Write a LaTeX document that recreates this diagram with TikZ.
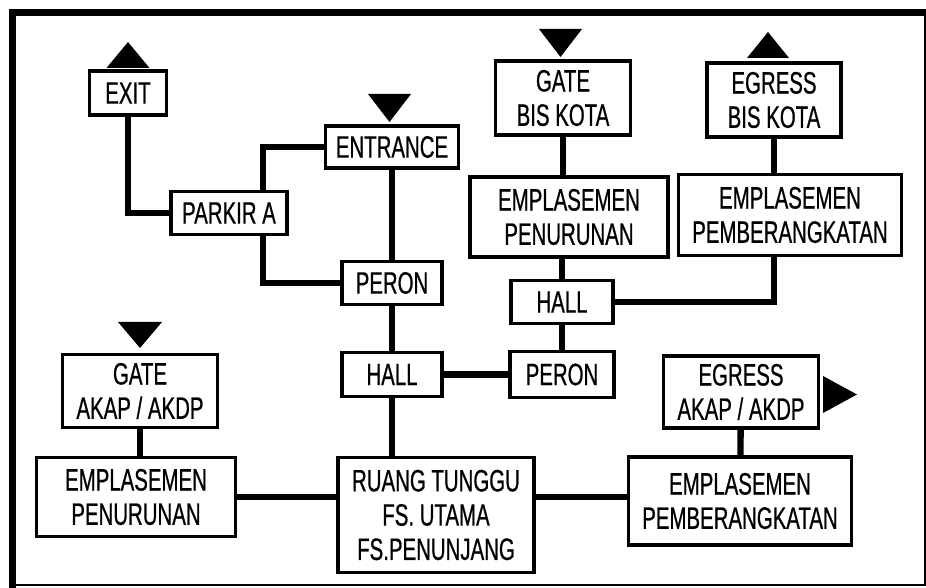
\documentclass[tikz,border=0pt]{standalone}
\usepackage{fontspec}
\setmainfont[FakeStretch=0.66, FakeBold=0.6]{Liberation Sans}

\begin{document}
\begin{tikzpicture}[
      font=\fontsize{17.6}{19.5}\selectfont,
      box/.style={draw=black, line width=1.8pt, fill=white, align=center,
                  inner sep=0pt},
      link/.style={draw=black, line width=3.6pt},
      tri/.style={fill=black},
      frame/.style={draw=black, line cap=rect}
    ]
    \useasboundingbox (0,0) rectangle (18.52,11.74);
    \draw[frame, line width=3.6pt] (0.25,0.04) -- (0.25,11.49) -- (18.50,11.49);
    \draw[frame, line width=1.5pt] (0.25,0.04) -- (18.50,0.04) -- (18.50,11.49);

    % Parking and entrance side.
    \node[box, minimum width=1.54cm, minimum height=0.88cm] (exit) at (2.56,9.88) {EXIT};
    \node[box, minimum width=2.66cm, minimum height=0.84cm] (entrance) at (7.84,8.80) {ENTRANCE};
    \node[box, minimum width=2.32cm, minimum height=0.86cm] (parkir) at (4.58,7.48) {PARKIR A};
    \node[box, minimum width=2.00cm, minimum height=0.86cm] (peronL) at (7.84,6.08) {PERON};
    \node[box, minimum width=2.00cm, minimum height=0.88cm] (hallL) at (7.84,4.25) {HALL};
    \fill[tri] (2.13,10.38) -- (2.99,10.38) -- (2.56,10.90) -- cycle;
    \fill[tri] (7.36,9.86) -- (8.22,9.86) -- (7.79,9.30) -- cycle;

    % City bus side.
    \node[box, minimum width=2.70cm, minimum height=1.48cm] (gateBis) at (11.26,9.78) {GATE\\BIS KOTA};
    \node[box, minimum width=2.68cm, minimum height=1.48cm] (egressBis) at (15.48,9.74) {EGRESS\\BIS KOTA};
    \node[box, minimum width=3.96cm, minimum height=1.60cm] (empPenT) at (11.38,7.40) {EMPLASEMEN\\PENURUNAN};
    \node[box, minimum width=4.46cm, minimum height=1.62cm] (empBerT) at (15.80,7.44) {EMPLASEMEN\\PEMBERANGKATAN};
    \node[box, minimum width=2.04cm, minimum height=0.86cm] (hallR) at (11.24,5.70) {HALL};
    \node[box, minimum width=2.08cm, minimum height=0.92cm] (peronR) at (11.24,4.25) {PERON};
    \fill[tri] (10.78,11.16) -- (11.64,11.16) -- (11.21,10.60) -- cycle;
    \fill[tri] (14.94,10.58) -- (15.78,10.58) -- (15.36,11.10) -- cycle;

    % AKAP / AKDP side.
    \node[box, minimum width=3.10cm, minimum height=1.46cm] (gateAkap) at (2.80,3.92) {GATE\\AKAP / AKDP};
    \node[box, minimum width=3.98cm, minimum height=1.58cm] (empPenB) at (2.72,1.80) {EMPLASEMEN\\PENURUNAN};
    \node[box, minimum width=3.92cm, minimum height=2.30cm] (ruang) at (8.72,1.44) {RUANG TUNGGU\\FS. UTAMA\\FS.PENUNJANG};
    \node[box, minimum width=4.46cm, minimum height=1.76cm] (empBerB) at (14.80,1.72) {EMPLASEMEN\\PEMBERANGKATAN};
    \node[box, minimum width=3.10cm, minimum height=1.44cm] (egressAkap) at (14.82,3.90) {EGRESS\\AKAP / AKDP};
    \fill[tri] (2.36,5.30) -- (3.24,5.30) -- (2.80,4.78) -- cycle;
    \fill[tri] (16.46,4.22) -- (16.46,3.48) -- (17.14,3.85) -- cycle;

    \draw[link] (exit.south) |- (parkir.west);
    \draw[link] ([xshift=6.8mm]parkir.north) |- (entrance.west);
    \draw[link] ([xshift=6.8mm]parkir.south) |- (peronL.west);
    \draw[link] (entrance) -- (peronL);
    \draw[link] (peronL) -- (hallL);
    \draw[link] (hallL.south) -- (hallL.south |- ruang.north);
    \draw[link] (hallL) -- (peronR);
    \draw[link] (peronR) -- (hallR);
    \draw[link] (hallR.north) -- (hallR.north |- empPenT.south);
    \draw[link] (gateBis.south) -- (gateBis.south |- empPenT.north);
    \draw[link] (egressBis.south) -- (egressBis.south |- empBerT.north);
    \draw[link] (hallR.east) -| (egressBis.south |- empBerT.south);
    \draw[link] (gateAkap.south) -- (gateAkap.south |- empPenB.north);
    \draw[link] (empPenB.east) -- (empPenB.east -| ruang.west);
    \draw[link] (ruang.east |- empPenB.east) -- (empBerB.west |- empPenB.east);
    \draw[link] (egressAkap) -- (empBerB);
  \end{tikzpicture}
\end{document}
